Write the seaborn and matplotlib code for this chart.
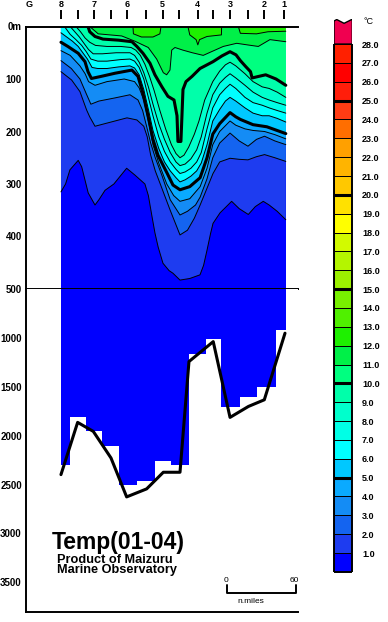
import matplotlib
matplotlib.use("Agg")
import matplotlib.pyplot as plt
import seaborn as sns

# stations along the section, n.miles from station 8
station_names = ["8", "7", "6", "5", "4", "3", "2", "1"]
station_x = [0, 28.7, 57.7, 88.4, 118.9, 147.0, 176.8, 194.2]
mid_x = [14.5, 43.5, 73.7, 102.6, 131.9, 162.3]
ground_x = -27.6

iso_1 = [(0, 315), (4, 300), (7.8, 273), (15, 255), (18, 267), (23.7, 317), (29.6, 340), (33, 330),
         (38.3, 312), (46, 300), (57.1, 270), (64.3, 283), (73, 300), (76, 322), (79, 360), (81.7, 393),
         (84.5, 420), (88.7, 451), (94, 465), (97.4, 470), (103.5, 483), (112, 480), (120.9, 473),
         (124, 455), (127, 426), (130, 395), (132.2, 375), (138.3, 355), (148.4, 333), (155, 347),
         (162.9, 358), (169, 343), (175.9, 333), (181, 340), (188, 352), (195.5, 368)]
iso_2 = [(0, 86), (9.3, 102), (16.5, 124), (22.3, 159), (25, 172), (29.6, 190), (40, 184), (57.4, 174),
         (66, 178), (72, 190), (75, 210), (78, 245), (82, 275), (86, 298), (94.8, 349), (103.5, 397),
         (110, 388), (116, 365), (121, 340), (127, 308), (132.2, 280), (138, 258), (147, 251), (155, 253),
         (162.6, 254), (170, 248), (177, 244), (186, 250), (195.5, 257)]
iso_3 = [(0, 65), (9, 80), (16.5, 100), (22, 128), (26, 148), (33, 142), (47, 136), (60, 130), (67, 140),
         (71, 160), (75, 195), (78, 222), (82, 250), (88, 285), (95, 330), (103.5, 359), (110, 352),
         (117, 340), (121, 325), (127, 290), (132, 250), (138, 222), (147, 203), (155, 218), (162.6, 228),
         (170, 215), (177, 209), (186, 218), (195.5, 225)]
iso_4 = [(0, 46), (8, 55), (16.5, 75), (21, 90), (24, 105), (29.6, 112), (40, 105), (55, 100), (64, 105),
         (68, 117), (72, 140), (76, 180), (80, 225), (85, 260), (92, 300), (98, 322), (103.5, 333),
         (112, 328), (121, 305), (127, 270), (132, 225), (138, 200), (147, 180), (152, 188), (160, 195),
         (167, 198), (177, 200), (186, 206), (195.5, 214)]
iso_5 = [(0, 30), (6, 38), (15, 51), (20.9, 67), (23.5, 86), (26.5, 99), (35, 95), (47, 89), (61.7, 83),
         (67, 95), (71, 125), (75.7, 170), (80, 215), (84.3, 245), (92.2, 279), (97.4, 302), (103.5, 311),
         (112, 305), (121, 288), (127, 250), (132, 205), (138, 185), (147, 164), (152, 172), (156, 177),
         (167, 187), (179, 191), (195.5, 204)]
iso_6 = [(0, 12), (5, 20), (10, 28), (15, 38), (19, 50), (23, 62), (27, 78), (32, 80), (40, 80), (50, 77),
         (60, 75), (64, 79), (68, 92), (72, 120), (76, 158), (80, 198), (85, 232), (90, 258), (95, 275),
         (100, 288), (103.5, 296), (108, 292), (113, 285), (118, 275), (122, 260), (127, 225), (132, 180),
         (138, 158), (143, 142), (147, 135), (152, 142), (160, 155), (167, 165), (175, 170), (181, 170),
         (188, 175), (195.5, 182)]
iso_7 = [(3, 0), (8, 15), (13, 25), (18, 36), (22, 48), (26, 62), (32, 66), (40, 66), (52, 63), (60, 62),
         (64, 66), (68, 78), (72, 100), (76, 135), (80, 170), (85, 210), (90, 238), (95, 258), (100, 272),
         (103.5, 280), (108, 277), (113, 270), (118, 258), (122, 240), (127, 195), (132, 155), (138, 130),
         (143, 118), (147, 110), (152, 118), (160, 135), (167, 145), (175, 150), (181, 155), (188, 160),
         (195.5, 165)]
iso_8 = [(8, 0), (12, 10), (16, 20), (20, 32), (24, 44), (28, 52), (36, 52), (48, 50), (60, 50), (64, 55),
         (68, 68), (72, 88), (76, 115), (80, 148), (85, 185), (90, 215), (95, 240), (100, 258), (103.5, 265),
         (108, 262), (113, 252), (118, 235), (122, 210), (127, 165), (132, 130), (138, 108), (143, 97),
         (147, 90), (152, 98), (160, 112), (167, 125), (175, 135), (181, 140), (188, 145), (195.5, 150)]
iso_9 = [(13, 0), (17, 10), (21, 22), (25, 30), (30, 36), (40, 38), (52, 38), (61, 40), (65, 45), (69, 55),
         (73, 72), (77, 95), (81, 122), (86, 160), (91, 195), (96, 225), (100, 242), (103.5, 250), (107, 245),
         (111, 230), (116, 205), (120, 180), (125, 140), (132, 105), (138, 85), (143, 73), (147, 68),
         (152, 75), (160, 90), (167, 105), (175, 115), (181, 118), (188, 125), (195.5, 135)]
iso_10 = [(23.5, 0), (25, 10), (29.6, 19), (36.5, 24), (50, 26), (61.7, 29), (66, 38), (71.3, 51),
          (77.4, 70), (81.7, 92), (87.8, 115), (93, 133), (98.3, 140), (100.9, 170), (101.7, 219),
          (104.3, 219), (105.2, 170), (106.1, 120), (108.7, 105), (114, 95), (120.9, 80), (132.2, 67),
          (140, 56), (147, 48), (152.2, 54), (156, 65), (160.5, 76), (164.8, 86), (166.2, 98), (172, 95),
          (178, 92), (187, 100), (195.5, 112)]
iso_11 = [(25, 0), (32.4, 14), (52.8, 18), (64.3, 28), (75.9, 40), (83.2, 62), (89, 88), (91.9, 92),
          (94.8, 83), (96.3, 45), (99.1, 40), (106, 45), (114.2, 50), (123.7, 55), (141.1, 38), (152.8, 32),
          (162, 35), (171.6, 38), (181.7, 25), (195.5, 29)]
iso_12a = [(62.6, 0), (63, 14), (70, 20), (80, 20), (86, 14), (87, 0)]
iso_12b = [(110.4, 0), (112, 16), (117.5, 25), (119, 35), (120.5, 25), (127, 19), (139.5, 16), (139.7, 0)]
iso_12c = [(154.2, 0), (156, 13), (170, 14), (180, 10), (195.5, 9)]

# colour of each 1 degC band: 0-1, 1-2, ... 27-28, then above 28
band_colors = ['#0000ff', '#1e3cf0', '#1464f0', '#148cf5', '#0aaaff', '#00c8ff', '#00ffff', '#00ffe6',
               '#00ffcc', '#00ffaa', '#00ff80', '#00f048', '#1ef000', '#50f000', '#78f000', '#9cf000',
               '#b4f500', '#d2fa00', '#ffff00', '#ffe100', '#ffc800', '#ffb400', '#ffa000', '#ff6e00',
               '#ff3c14', '#ff1e0a', '#ff0000', '#ff2000', '#f00050']

# deep part: cast depth around each station and the sea bottom
step_edges = [0, 7.8, 21.7, 35.4, 50.4, 65.8, 81.7, 95.7, 111.3, 126.0, 139.0, 155.7, 170.2, 187.0, 195.5]
step_depth = [2303, 1813, 1956, 2109, 2507, 2459, 2262, 2303, 1163, 1010, 1711, 1609, 1507, 918]
bottom_x = [0, 14.5, 28.1, 43.5, 57.1, 74.5, 89.0, 103.5, 111.3, 132.4, 147.0, 163.0, 176.8, 194.8]
bottom_depth = [2398, 1864, 1956, 2228, 2626, 2544, 2374, 2374, 1242, 1038, 1813, 1701, 1633, 952]

sns.set_style("white", {"axes.edgecolor": "black", "text.color": "black",
                        "xtick.color": "black", "ytick.color": "black"})
plt.rcParams['font.family'] = ['Liberation Sans', 'DejaVu Sans']

W, H = 388, 622
fig = plt.figure(figsize=(W / 100, H / 100), dpi=100)


def box(x0, y0, x1, y1):
    # pixel box of the picture -> figure fraction
    return [x0 / W, 1 - y1 / H, (x1 - x0) / W, (y1 - y0) / H]


ax_top = fig.add_axes(box(26, 26.5, 298, 289))
ax_bot = fig.add_axes(box(26, 289, 298, 611.7))
cax = fig.add_axes(box(334, 18.6, 352.3, 571.9))

# upper section 0-500 m
ax_top.fill_between([0, 195.5], 0, 500, color=band_colors[0], lw=0)
isotherms = [(1, iso_1), (2, iso_2), (3, iso_3), (4, iso_4), (5, iso_5), (6, iso_6), (7, iso_7),
             (8, iso_8), (9, iso_9), (10, iso_10), (11, iso_11), (12, iso_12a), (12, iso_12b), (12, iso_12c)]
for t, pts in isotherms:
    xs = [p[0] for p in pts]
    zs = [p[1] for p in pts]
    ax_top.fill(xs + [xs[-1], xs[0]], zs + [0, 0], color=band_colors[t], lw=0)
for t, pts in isotherms:
    xs = [p[0] for p in pts]
    zs = [p[1] for p in pts]
    sns.lineplot(x=xs, y=zs, ax=ax_top, color='k', lw=2.2 if t % 5 == 0 else 0.7,
                 sort=False, estimator=None)

# lower section 500 m - bottom
ax_bot.fill_between(step_edges, 500, step_depth + [step_depth[-1]], step='post',
                    color=band_colors[0], lw=0)
sns.lineplot(x=bottom_x, y=bottom_depth, ax=ax_bot, color='k', lw=2.2, sort=False, estimator=None)

for ax in (ax_top, ax_bot):
    ax.set_xlim(-30.4, 206.1)
    ax.set_xticks([])
    ax.set_xlabel('')
    ax.set_ylabel('')
    ax.tick_params(axis='y', direction='in', length=3.5, width=1.4, pad=3, labelsize=7)
    for s in ax.spines.values():
        s.set_linewidth(1.4)
    ax.spines['right'].set_visible(False)

ax_top.set_ylim(500, 0)
ax_top.set_yticks([0, 100, 200, 300, 400, 500])
ax_top.set_yticklabels(['0m', '100', '200', '300', '400', '500'], fontweight='bold', fontsize=7)
ax_bot.set_ylim(3800, 500)
ax_bot.set_yticks([1000, 1500, 2000, 2500, 3000, 3500])
ax_bot.set_yticklabels(['1000', '1500', '2000', '2500', '3000', '3500'], fontweight='bold', fontsize=7)
ax_bot.spines['top'].set_visible(False)

# station marks above the section
trans = ax_top.get_xaxis_transform()
ax_top.vlines(station_x + mid_x, 1.0274, 1.063, transform=trans, clip_on=False, color='k', lw=1.4)
for name, x in zip(station_names, station_x):
    ax_top.text(x, 1.082, name, transform=trans, ha='center', va='center', fontsize=6.5, fontweight='bold')
ax_top.text(ground_x, 1.082, 'G', transform=trans, ha='center', va='center', fontsize=6.5, fontweight='bold')

# scale bar
ax_bot.plot([144.3, 144.3, 204.3, 204.3], [3523, 3605, 3605, 3523], color='k', lw=1.4)
ax_bot.text(143.5, 3478, '0', ha='center', va='center', fontsize=6)
ax_bot.text(203.0, 3478, '60', ha='center', va='center', fontsize=6)
ax_bot.text(164.6, 3697, 'n.miles', ha='center', va='center', fontsize=6)

fig.text(51.7 / W, 1 - 549 / H, 'Temp(01-04)', fontsize=16.5, fontweight='bold', va='baseline')
fig.text(56.7 / W, 1 - 554.2 / H, 'Product of Maizuru\nMarine Observatory', fontsize=9.2,
         fontweight='bold', va='top', linespacing=0.7)

# colour scale
levels = list(range(28))
cax.bar([0.5] * 28, [1] * 28, width=1, bottom=levels, color=band_colors[:28], edgecolor='k', linewidth=0.7)
cax.fill([0, 0, 0.15, 0.55, 0.8, 1, 1], [28, 29.22, 29.3, 29.1, 29.22, 29.32, 28],
         color=band_colors[28], ec='k', lw=1.0)
cax.hlines([5, 10, 15, 20, 25], 0, 1, color='k', lw=2.2)
cax.vlines([0, 1], 0, 28, color='k', lw=1.4, clip_on=False)
cax.hlines([0], 0, 1, color='k', lw=1.4, clip_on=False)
cax.set_xlim(0, 1)
cax.set_ylim(0, 29.35)
cax.set_xticks([])
cax.yaxis.tick_right()
cax.set_yticks(range(1, 29))
cax.set_yticklabels([f'{v:.1f}' for v in range(1, 29)], fontsize=6.5, fontweight='bold')
cax.tick_params(axis='y', length=0, pad=7)
for s in cax.spines.values():
    s.set_visible(False)
fig.text(363 / W, 1 - 21 / H, '°C', fontsize=6.5, va='center')

fig.savefig('out.png', dpi=100)
